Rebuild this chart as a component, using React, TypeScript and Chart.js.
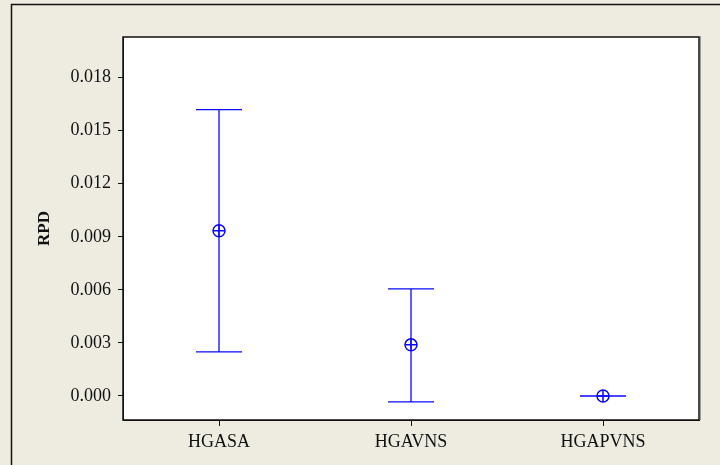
import React, { useEffect, useRef } from "react";
import { Chart, registerables } from "chart.js";

Chart.register(...registerables);

const categories = ["HGASA", "HGAVNS", "HGAPVNS"];
const means = [0.00934, 0.00289, 0.0];
const upper = [0.01619, 0.00606, 0.00001];
const lower = [0.00249, -0.00034, -0.00001];
const yTicks = [0, 0.003, 0.006, 0.009, 0.012, 0.015, 0.018];
const yTitle = "RPD";

const BLUE = "#0a0aff";
const FONT = "'Liberation Serif', 'Times New Roman', serif";

const decorPlugin = {
  id: "decor",
  beforeDraw(chart: any) {
    const { ctx, width, height, chartArea } = chart;
    ctx.save();
    ctx.fillStyle = "#eeebe1";
    ctx.fillRect(0, 0, width, height);
    ctx.strokeStyle = "#111";
    ctx.lineWidth = 1.5;
    ctx.beginPath();
    ctx.moveTo(11.5, height);
    ctx.lineTo(11.5, 4.5);
    ctx.lineTo(width, 4.5);
    ctx.stroke();
    ctx.fillStyle = "#ffffff";
    ctx.fillRect(chartArea.left, chartArea.top, chartArea.right - chartArea.left, chartArea.bottom - chartArea.top);
    ctx.restore();
  },
  afterDraw(chart: any) {
    const { ctx, chartArea } = chart;
    ctx.save();
    ctx.strokeStyle = "#999";
    ctx.lineWidth = 1;
    ctx.beginPath();
    ctx.moveTo(chartArea.right + 1.5, chartArea.top - 1);
    ctx.lineTo(chartArea.right + 1.5, chartArea.bottom);
    ctx.stroke();
    ctx.strokeStyle = "#111";
    ctx.lineWidth = 1.5;
    ctx.strokeRect(chartArea.left, chartArea.top, chartArea.right - chartArea.left, chartArea.bottom - chartArea.top);
    ctx.fillStyle = "#111";
    ctx.font = `bold 17px ${FONT}`;
    ctx.textAlign = "center";
    ctx.textBaseline = "middle";
    ctx.translate(45, (chartArea.top + chartArea.bottom) / 2);
    ctx.rotate(-Math.PI / 2);
    ctx.fillText(yTitle, 0, 0);
    ctx.restore();
  },
  beforeDatasetsDraw(chart: any) {
    const { ctx } = chart;
    const xs = chart.scales.x;
    const ys = chart.scales.y;
    ctx.save();
    ctx.strokeStyle = BLUE;
    ctx.lineWidth = 1.3;
    categories.forEach((_c, i) => {
      const x = xs.getPixelForValue(i);
      const yu = ys.getPixelForValue(upper[i]);
      const yl = ys.getPixelForValue(lower[i]);
      const cap = 23;
      ctx.beginPath();
      ctx.moveTo(x, yu);
      ctx.lineTo(x, yl);
      ctx.moveTo(x - cap, yu);
      ctx.lineTo(x + cap, yu);
      ctx.moveTo(x - cap, yl);
      ctx.lineTo(x + cap, yl);
      ctx.stroke();
    });
    ctx.restore();
  },
};

export default function App() {
  const ref = useRef<HTMLCanvasElement | null>(null);
  useEffect(() => {
    if (!ref.current) return;
    const chart = new Chart(ref.current, {
      type: "line",
      data: {
        labels: categories,
        datasets: [
          {
            data: means,
            showLine: false,
            pointStyle: "circle",
            pointRadius: 6,
            pointBorderColor: BLUE,
            pointBackgroundColor: "rgba(0,0,0,0)",
            pointBorderWidth: 1.5,
          },
          {
            data: means,
            showLine: false,
            pointStyle: "cross",
            pointRadius: 6,
            pointBorderColor: BLUE,
            pointBorderWidth: 1.5,
          },
        ],
      },
      options: {
        responsive: false,
        animation: false,
        layout: { padding: { left: 0, top: 37, right: 21, bottom: 0 } },
        plugins: { legend: { display: false }, tooltip: { enabled: false }, title: { display: false } },
        scales: {
          x: {
            type: "category",
            offset: true,
            grid: { display: true, offset: false, drawOnChartArea: false, drawTicks: true, tickLength: 6, color: "#111" },
            border: { display: true, color: "#111" },
            ticks: { color: "#111", font: { family: FONT, size: 18 }, padding: 5, maxRotation: 0 },
            afterFit: (s: any) => { s.height = 45; },
          },
          y: {
            type: "linear",
            min: -0.00136,
            max: 0.0203,
            grid: { display: true, drawOnChartArea: false, drawTicks: true, tickLength: 5, color: "#111" },
            border: { display: true, color: "#111" },
            ticks: {
              color: "#111",
              font: { family: FONT, size: 18 },
              padding: 7,
              callback: (v: any) => Number(v).toFixed(3),
            },
            afterBuildTicks: (s: any) => { s.ticks = yTicks.map((v) => ({ value: v })); },
            afterFit: (s: any) => { s.width = 123; },
          },
        },
      },
      plugins: [decorPlugin],
    });
    return () => chart.destroy();
  }, []);
  return (
    <div style={{ position: "fixed", left: 0, top: 0, width: 720, height: 465 }}>
      <canvas ref={ref} width={720} height={465} style={{ display: "block" }} />
    </div>
  );
}
